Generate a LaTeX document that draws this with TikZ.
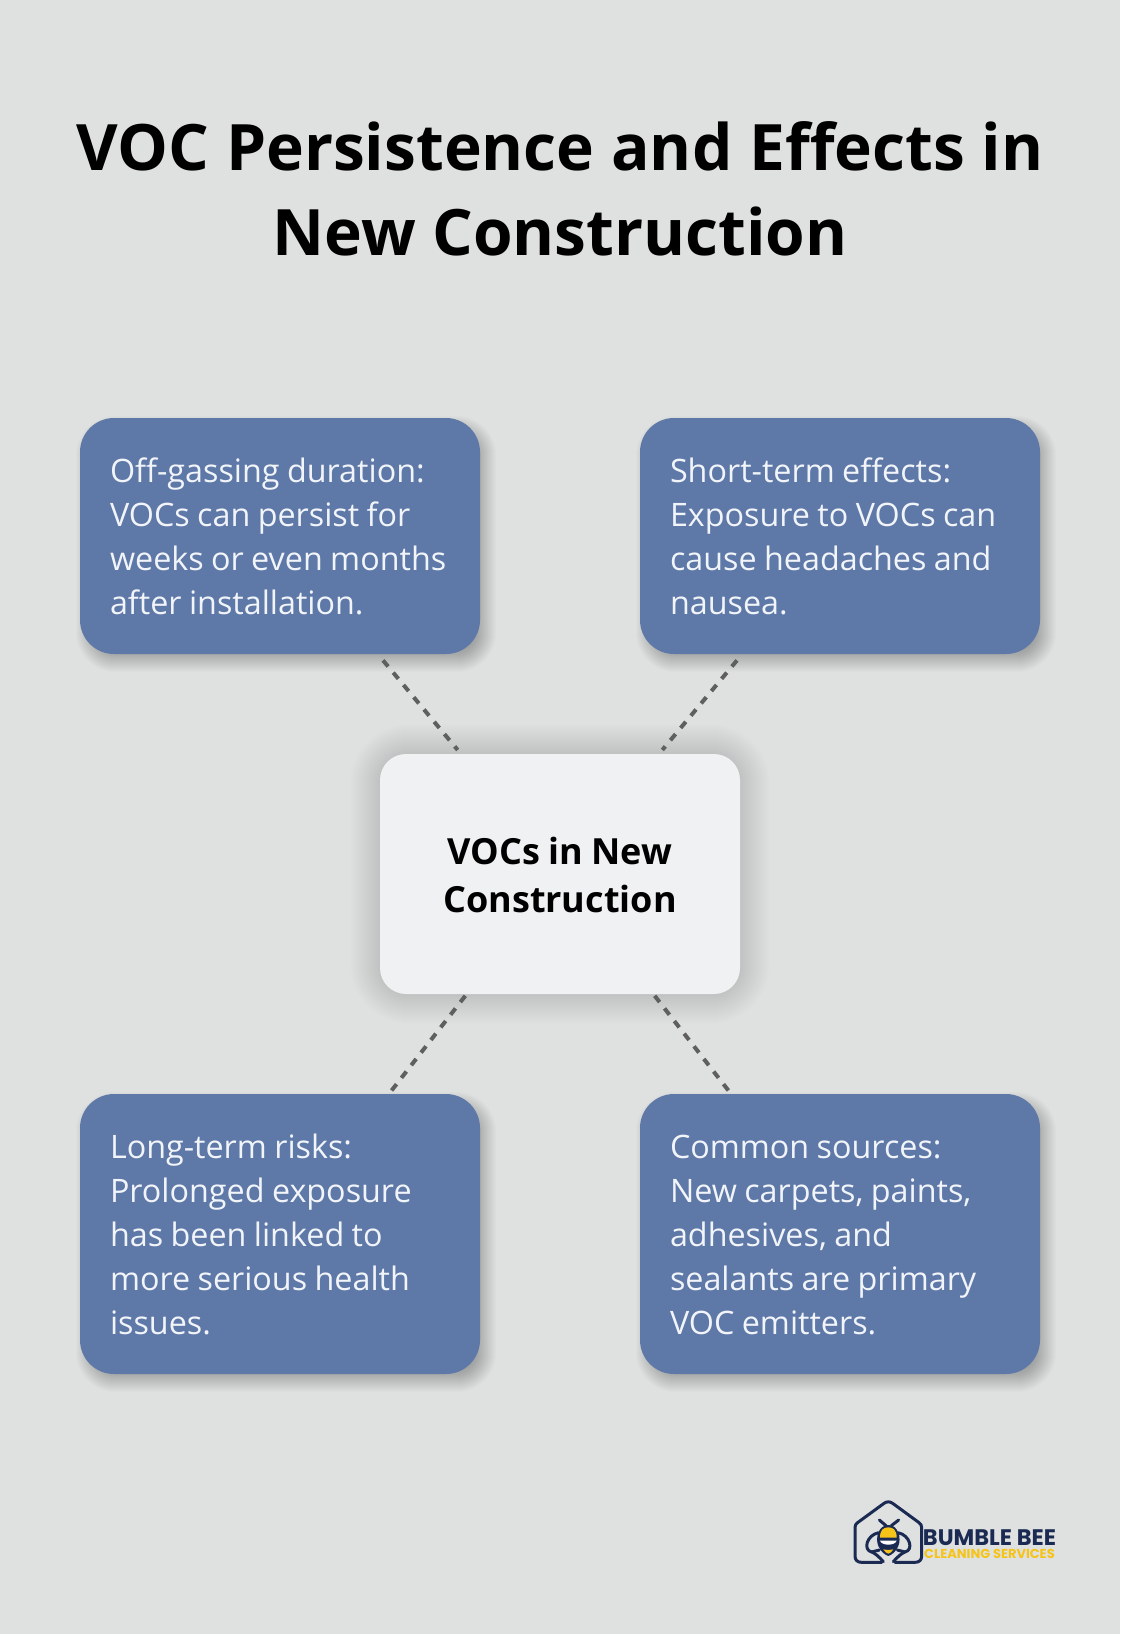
\documentclass[tikz,border=0pt]{standalone}
\usepackage{fontspec}
\setmainfont{Open Sans}
\newfontfamily\logofont{Poppins}
\usetikzlibrary{calc,backgrounds}
\definecolor{pagegrey}{HTML}{DFE1E0}
\definecolor{cardblue}{HTML}{5E78A8}
\definecolor{cardlight}{HTML}{EFF1F2}
\definecolor{cardtext}{HTML}{F1F4F8}
\definecolor{dotgrey}{HTML}{5F5F5F}
\definecolor{logonavy}{HTML}{1B2A52}
\definecolor{logoyellow}{HTML}{F6C419}
\tikzset{
    cardnode/.style={fill=cardblue,text=cardtext,rounded corners=34pt,minimum width=400pt,
        text width=340pt,inner xsep=30pt,inner ysep=0pt,align=left,
        execute at begin node={\spaceskip=7.4pt\relax\rule{0pt}{26pt}},
        font=\fontsize{32.3}{44}\selectfont},
    midnode/.style={fill=cardlight,text=black,rounded corners=26pt,minimum width=360pt,minimum height=240pt,
        text width=300pt,inner xsep=30pt,align=center,
        execute at begin node={\spaceskip=8.3pt\relax\rule{0pt}{28.5pt}},
        font=\fontsize{36}{48}\selectfont\bfseries},
    dotline/.style={dotgrey,line width=4pt,dash pattern=on 8pt off 8pt},
    logoline/.style={logonavy,line width=3pt,line cap=round,line join=round}
}
% soft shadow behind a node: node, x shift, y shift, ring range, opacity
\newcommand{\softshadow}[5]{
    \foreach \r [evaluate=\r as \rc using 30+\r] in {#4}{
        \fill[black,opacity=#5,rounded corners=\rc pt]
            ($(#1.south west)+(#2-\r,#3+\r)$) rectangle ($(#1.north east)+(#2+\r,#3-\r)$);
    }
}
\begin{document}
\begin{tikzpicture}[x=1pt,y=-1pt]
    \useasboundingbox (0,0) rectangle (1120,1634);
    \node (title) at (560,189) [align=center,text=black,font=\fontsize{64}{85}\selectfont\bfseries]
        {VOC Persistence and Effects in\\New Construction};

    \node (offgas) at (280,536) [cardnode,minimum height=236pt]
        {Off-gassing duration:\\VOCs can persist for\\weeks or even months\\after installation.};
    \node (shortterm) at (840,536) [cardnode,minimum height=236pt]
        {Short-term effects:\\Exposure to VOCs can\\cause headaches and\\nausea.};
    \node (longterm) at (280,1234) [cardnode,minimum height=280pt]
        {Long-term risks:\\Prolonged exposure\\has been linked to\\more serious health\\issues.};
    \node (sources) at (840,1234) [cardnode,minimum height=280pt]
        {Common sources:\\New carpets, paints,\\adhesives, and\\sealants are primary\\VOC emitters.};
    \node (vocs) at (560,874) [midnode] {VOCs in New\\Construction};

    \begin{pgfonlayer}{background}
        \fill[pagegrey] (0,0) rectangle (1120,1634);
        \softshadow{offgas}{6}{8}{-10,...,10}{0.012}
        \softshadow{shortterm}{6}{8}{-10,...,10}{0.012}
        \softshadow{longterm}{6}{8}{-10,...,10}{0.012}
        \softshadow{sources}{6}{8}{-10,...,10}{0.012}
        \softshadow{vocs}{0}{0}{0,...,30}{0.004}
    \end{pgfonlayer}

    \draw[dotline,shorten <=8pt,shorten >=5pt] (offgas)--(vocs);
    \draw[dotline,shorten <=8pt,shorten >=5pt] (shortterm)--(vocs);
    \draw[dotline,shorten <=2pt,shorten >=1pt] (vocs)--(longterm);
    \draw[dotline,shorten <=2pt,shorten >=1pt] (vocs)--(sources);

    % logo
    \begin{scope}[shift={(820,1470)},x=0.3333pt,y=-0.3333pt]
        \draw[logoline] (225,277)--(285,277) .. controls (298,277) and (305,270) .. (305,258)--(305,172)
            .. controls (305,165) and (302,162) .. (296,157)--(218,100)
            .. controls (210,94) and (200,94) .. (192,100)--(114,157)
            .. controls (108,162) and (105,165) .. (105,172)--(105,258)
            .. controls (105,270) and (112,277) .. (125,277)--(185,277);
        \draw[logoline] (190,275) .. controls (175,258) and (165,250) .. (155,246)
            .. controls (128,240) and (140,195) .. (176,188);
        \draw[logoline] (220,275) .. controls (235,258) and (245,250) .. (255,246)
            .. controls (282,240) and (270,195) .. (234,188);
        \draw[logoline] (155,246)--(178,240);
        \draw[logoline] (255,246)--(232,240);
        \draw[logoline] (178,150)--(198,167);
        \draw[logoline] (236,150)--(214,167);
        \fill[logonavy] (205,165) .. controls (235,165) and (245,205) .. (235,228)
            .. controls (228,245) and (215,255) .. (205,258)
            .. controls (195,255) and (182,245) .. (175,228)
            .. controls (165,205) and (175,165) .. (205,165);
        \fill[logoyellow] (180,203) .. controls (180,180) and (190,172) .. (205,172)
            .. controls (220,172) and (230,180) .. (230,203)--cycle;
        \fill[white] (180,212)--(230,212) .. controls (225,228) and (185,228) .. (180,212);
        \fill[logoyellow] (190,238) .. controls (197,240) and (213,240) .. (220,238)
            .. controls (215,246) and (210,250) .. (205,251) .. controls (200,250) and (195,246) .. (190,238);
    \end{scope}
    \node (bumble) at (989.5,1538) [inner sep=0pt,text=logonavy,font=\fontsize{22.5}{24}\selectfont\logofont\bfseries]
        {BUMBLE BEE};
    \node (cleaning) at (989.5,1553.5) [inner sep=0pt,text=logoyellow,font=\fontsize{13}{14}\selectfont\logofont\bfseries]
        {CLEANING SERVICES};
\end{tikzpicture}
\end{document}
